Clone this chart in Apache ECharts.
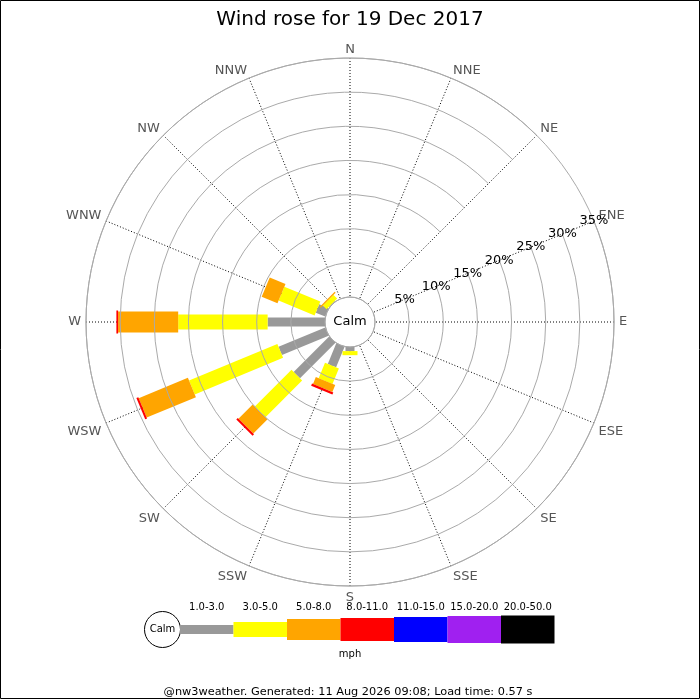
<!DOCTYPE html>
<html>
<head>
<meta charset="utf-8">
<script src="https://cdn.jsdelivr.net/npm/echarts@6/dist/echarts.min.js"></script>
<style>
html, body { margin: 0; padding: 0; background: #fff; }
#chart { width: 700px; height: 700px; }
</style>
</head>
<body>
<div id="chart"></div>
<script>
// compass directions, clockwise from N
var dirs = ['N','NNE','NE','ENE','E','ESE','SE','SSE','S','SSW','SW','WSW','W','WNW','NW','NNW'];

// speed classes (mph)
var speedClasses = ['1.0-3.0','3.0-5.0','5.0-8.0','8.0-11.0','11.0-15.0','15.0-20.0','20.0-50.0'];

// % of the day in each class, per direction (same order as dirs)
var pct_1_3   = [0,0,0,0,0,0,0,0,0.6,3.25,7.35,7.4,8.4,1.5,0.1,0];
var pct_3_5   = [0,0,0,0,0,0,0,0,0.6,2.45,7.6,14.0,13.1,5.7,0.75,0];
var pct_5_8   = [0,0,0,0,0,0,0,0,0,1.1,2.95,7.8,8.8,2.5,0.2,0];
var pct_8_11  = [0,0,0,0,0,0,0,0,0,0.35,0.3,0.3,0.25,0,0,0];
var pct_11_15 = [0,0,0,0,0,0,0,0,0,0,0,0,0,0,0,0];
var pct_15_20 = [0,0,0,0,0,0,0,0,0,0,0,0,0,0,0,0];
var pct_20_50 = [0,0,0,0,0,0,0,0,0,0,0,0,0,0,0,0];

// radius axis ticks
var radiusMax = 35;
var radiusStep = 5;

var classData = [pct_1_3, pct_3_5, pct_5_8, pct_8_11, pct_11_15, pct_15_20, pct_20_50];
var classColors = ['#999999','#ffff00','#ffa500','#ff0000','#0000ff','#a020f0','#000000'];
var classWidths = [9, 15, 21, 23, 25, 27, 28];

var font = 'DejaVu Sans';
var cx = 350, cy = 322;

// angle axis starts at ENE so the % labels sit on that spoke
var startDir = 3;
var angleCats = dirs.slice(startDir).concat(dirs.slice(0, startDir));
function angleIndex(i){
	return (i - startDir + dirs.length) % dirs.length;
}

function makeSeries(k){
	var data = [];
	for(var i=0;i<dirs.length;i++){
		var base = 0;
		for(var j=0;j<k;j++){
			base += classData[j][i];
		}
		var v = classData[k][i];
		if(v > 0){
			data.push([angleIndex(i), base, base + v]);
		}
	}
	var w = classWidths[k];
	var color = classColors[k];
	return {
		name: speedClasses[k],
		type: 'custom',
		coordinateSystem: 'polar',
		encode: { angle: 0, radius: 2 },
		z: 3 + k,
		data: data,
		renderItem: function(params, api){
			var a = api.value(0);
			var p0 = api.coord([api.value(1), a]);
			var p1 = api.coord([api.value(2), a]);
			var dx = p1[0] - p0[0], dy = p1[1] - p0[1];
			var len = Math.sqrt(dx*dx + dy*dy);
			if(len < 0.01) return;
			var nx = -dy / len * w / 2, ny = dx / len * w / 2;
			return {
				type: 'polygon',
				shape: { points: [
					[p0[0]+nx, p0[1]+ny], [p1[0]+nx, p1[1]+ny],
					[p1[0]-nx, p1[1]-ny], [p0[0]-nx, p0[1]-ny]
				]},
				style: { fill: color }
			};
		}
	};
}

var series = [];
for(var k=0;k<classData.length;k++){
	series.push(makeSeries(k));
}

// direction labels in the upper half sit a bit lower
function dirLabel(value){
	var d = dirs.indexOf(value);
	var ang = d * 22.5 * Math.PI / 180;
	if(Math.cos(ang) > 0.01){
		return '{up|' + value + '}';
	}
	return value;
}

// legend strip at the bottom
var legendGraphics = [];
var lx = 180, ly = 629.5, lw = 53.5;
legendGraphics.push({
	type: 'circle', shape: { cx: 162.5, cy: ly, r: 18 },
	style: { fill: '#fff', stroke: '#000', lineWidth: 1 }
});
legendGraphics.push({
	type: 'text', x: 162.5, y: ly,
	style: { text: 'Calm', fontSize: 10, fontFamily: font, fill: '#000', align: 'center', verticalAlign: 'middle' }
});
for(var k=0;k<speedClasses.length;k++){
	var h = classWidths[k];
	legendGraphics.push({
		type: 'rect', shape: { x: lx + k*lw, y: ly - h/2, width: lw, height: h },
		style: { fill: classColors[k] }
	});
	legendGraphics.push({
		type: 'text', x: lx + k*lw + lw/2, y: 607,
		style: { text: speedClasses[k], fontSize: 10, fontFamily: font, fill: '#000', align: 'center', verticalAlign: 'middle' }
	});
}
legendGraphics.push({
	type: 'text', x: 350, y: 654,
	style: { text: 'mph', fontSize: 10, fontFamily: font, fill: '#000', align: 'center', verticalAlign: 'middle' }
});
legendGraphics.push({
	type: 'text', x: 348, y: 692,
	style: { text: '@nw3weather. Generated: 11 Aug 2026 09:08; Load time: 0.57 s', fontSize: 11.3, fontFamily: font, fill: '#000', align: 'center', verticalAlign: 'middle' }
});
// calm label in the middle
legendGraphics.push({
	type: 'text', x: cx, y: cy, z: 100,
	style: { text: 'Calm', fontSize: 13, fontFamily: font, fill: '#000', align: 'center', verticalAlign: 'middle' }
});
// frame
legendGraphics.push({
	type: 'rect', shape: { x: 0.5, y: 0.5, width: 699, height: 698 },
	style: { fill: 'none', stroke: '#000', lineWidth: 1 }
});

var chart = echarts.init(document.getElementById('chart'), null, { renderer: 'canvas' });
var option = {
	animation: false,
	backgroundColor: '#fff',
	textStyle: { fontFamily: font },
	title: {
		text: 'Wind rose for 19 Dec 2017',
		left: 'center',
		top: 5,
		textStyle: { fontSize: 20, fontWeight: 'normal', color: '#000', fontFamily: font }
	},
	polar: {
		center: [cx, cy],
		radius: [25, 264]
	},
	angleAxis: {
		type: 'category',
		data: angleCats,
		startAngle: 22.5,
		clockwise: true,
		boundaryGap: false,
		axisLine: { show: true, lineStyle: { color: '#aaa', width: 1 } },
		axisTick: { show: false },
		axisLabel: {
			color: '#555', fontSize: 13, margin: 5, fontFamily: font,
			formatter: dirLabel,
			rich: { up: { color: '#555', fontSize: 13, fontFamily: font, lineHeight: 6 } }
		},
		splitLine: { show: true, lineStyle: { color: '#000', width: 1, type: [1, 2] } }
	},
	radiusAxis: {
		type: 'value',
		min: 0,
		max: radiusMax,
		interval: radiusStep,
		z: 20,
		axisLine: { show: false },
		axisTick: { show: false },
		axisLabel: {
			margin: 0,
			align: 'center',
			verticalAlign: 'middle',
			fontSize: 13,
			color: '#000',
			fontFamily: font,
			formatter: function(v){ return v === 0 ? '' : v + '%'; }
		},
		splitLine: { show: true, lineStyle: { color: '#aaa', width: 1 } }
	},
	graphic: legendGraphics,
	series: series
};
chart.setOption(option);
</script>
</body>
</html>
